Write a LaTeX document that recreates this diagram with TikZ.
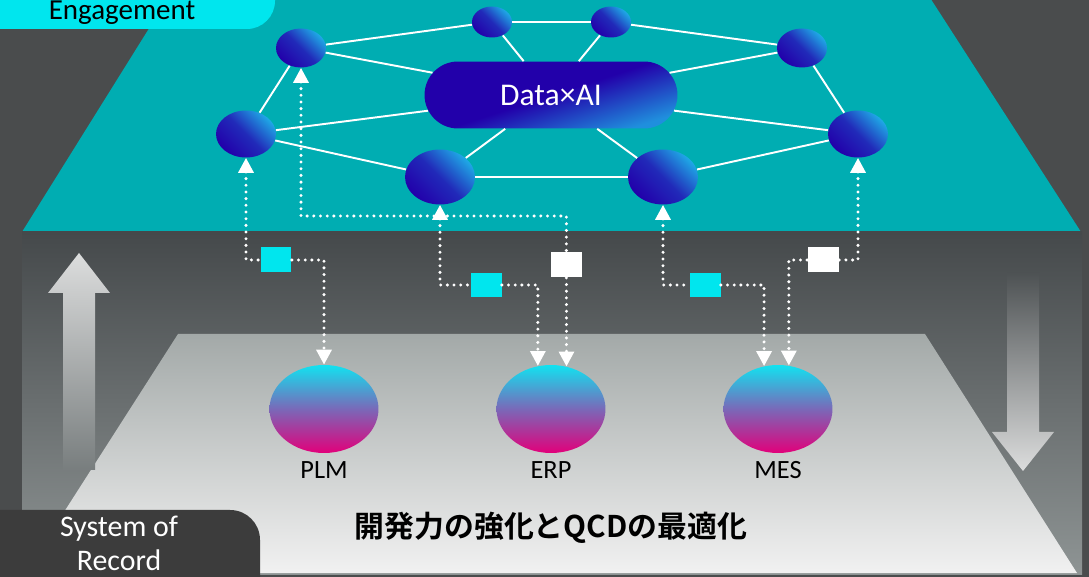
\documentclass[tikz,border=0pt]{standalone}
\usepackage{fontspec}
\setmainfont{Carlito}
\newfontfamily\jpfont{Noto Sans CJK JP}[BoldFont=* Bold]
\usetikzlibrary{arrows.meta,positioning,shapes.geometric,shapes.misc}
\definecolor{bgGray}{HTML}{4A4C4D}
\definecolor{tealLayer}{HTML}{00ADB2}
\definecolor{cyanTag}{HTML}{00E6EE}
\definecolor{panelTop}{HTML}{45494B}
\definecolor{panelBot}{HTML}{8E9494}
\definecolor{floorTop}{HTML}{A3A9A8}
\definecolor{floorBot}{HTML}{F1F1F1}
\definecolor{arrowLight}{HTML}{DCDDDD}
\definecolor{nodeDark}{HTML}{2200AA}
\definecolor{nodeLight}{HTML}{1FA8E6}
\definecolor{sysTop}{HTML}{12E2F0}
\definecolor{sysMid}{HTML}{7A68B8}
\definecolor{sysBot}{HTML}{E2007A}
\definecolor{labelDark}{HTML}{3C3C3C}

\begin{document}
\begin{tikzpicture}[x=0.02cm, y=-0.02cm, every node/.style={inner sep=0pt},
  hub/.style 2 args={ellipse, minimum width=#1, minimum height=#2,
    top color=nodeLight, bottom color=nodeDark, middle color=nodeDark!75!nodeLight, shading angle=-45},
  sys/.style={ellipse, minimum width=2.18cm, minimum height=1.76cm,
    top color=sysTop, bottom color=sysBot, middle color=sysMid},
  syslabel/.style={font=\fontsize{15}{18}\selectfont, below=0.16cm of #1},
  tagbox/.style={rectangle, fill=#1, minimum width=0.62cm, minimum height=0.5cm},
  web/.style={draw=white, line width=1.1pt},
  link/.style={white, line width=1.9pt, line cap=round, dash pattern=on 0pt off 3.8pt},
  up/.style={{Triangle[width=8.5pt,length=8.5pt]}-},
  down/.style={-{Triangle[width=8.5pt,length=8.5pt]}}]
  \useasboundingbox (0,0) rectangle (1089,577);
  \clip (0,0) rectangle (1089,577);

  % layers
  \fill[bgGray] (0,0) rectangle (1089,577);
  \fill[tealLayer] (173,-10) -- (925,-10) -- (1081,232) -- (22,232) -- cycle;
  \shade[top color=panelTop, bottom color=panelBot] (22,232) rectangle (1082,574);
  \shade[top color=floorTop, bottom color=floorBot] (178,334) -- (925,334) -- (1077,573) -- (25,573) -- cycle;
  \shade[top color=arrowLight, bottom color=panelTop!30!panelBot]
    (79,253) -- (110,293) -- (95,293) -- (95,470) -- (63,470) -- (63,293) -- (48,293) -- cycle;
  \shade[top color=panelTop!88!panelBot, bottom color=arrowLight]
    (1007,273) -- (1039,273) -- (1039,432) -- (1054,432) -- (1023,471) -- (992,432) -- (1007,432) -- cycle;

  % labels
  \fill[cyanTag, rounded corners=16pt] (-40,-40) rectangle (275,29);
  \node[font=\fontsize{16.5}{20}\selectfont, anchor=base] (eng) at (122,20) {Engagement};
  \fill[labelDark, rounded corners=17pt] (-40,510) rectangle (260,620);
  \node[align=center, text=white, font=\fontsize{17}{19.5}\selectfont] (sor) at (119,543) {System of\\Record};
  \node[font=\jpfont\bfseries\fontsize{17}{20}\selectfont] (goal) at (551,528) {開発力の強化とQCDの最適化};

  % engagement network
  \node[rounded rectangle, minimum width=5.06cm, minimum height=1.34cm,
    top color=nodeDark, bottom color=nodeLight!85!nodeDark, middle color=nodeDark, shading angle=18,
    text=white, font=\fontsize{18}{20}\selectfont] (core) at (551,95) {Data×AI};
  \node[hub={0.8cm}{0.62cm}] (top1) at (492,22) {};
  \node[hub={0.8cm}{0.62cm}] (top2) at (611,22) {};
  \node[hub={1cm}{0.78cm}] (upL) at (301,48) {};
  \node[hub={1cm}{0.78cm}] (upR) at (802,48) {};
  \node[hub={1.2cm}{0.94cm}] (midL) at (246,134) {};
  \node[hub={1.2cm}{0.94cm}] (midR) at (858,134) {};
  \node[hub={1.4cm}{1.1cm}] (lowL) at (440,177) {};
  \node[hub={1.4cm}{1.1cm}] (lowR) at (663,177) {};
  \foreach \a/\b in {top1/top2, top1/upL, top2/upR, upL/midL, upR/midR, midL/lowL, midR/lowR, lowL/lowR}
    \draw[web] (\a) -- (\b);
  \foreach \h in {top1,top2,upL,upR,midL,midR,lowL,lowR}
    \draw[web] (core) -- (\h);

  % systems of record
  \node[sys] (plm) at (324,409) {};
  \node[sys] (erp) at (551,409) {};
  \node[sys] (mes) at (778,409) {};
  \node[syslabel=plm] (plmL) {PLM};
  \node[syslabel=erp] (erpL) {ERP};
  \node[syslabel=mes] (mesL) {MES};

  % data links
  \node[tagbox=cyanTag] (tagA) at (276,260) {};
  \node[tagbox=white] (tagB) at (566.4,265) {};
  \node[tagbox=cyanTag] (tagC) at (486,285) {};
  \node[tagbox=cyanTag] (tagD) at (705,285) {};
  \node[tagbox=white] (tagE) at (823,260) {};
  \coordinate (cornB) at (566.4,216);
  \draw[link, up] (midL.south) |- (tagA);
  \draw[link, down] (tagA) -| (plm.north);
  \draw[link, up] (upL.south) |- (cornB) -- (tagB);
  \draw[link, down] (tagB) -- (erp.70);
  \draw[link, up] (lowL.south) |- (tagC);
  \draw[link, down] (tagC) -| (erp.107);
  \draw[link, up] (lowR.south) |- (tagD);
  \draw[link, down] (tagD) -| (mes.108);
  \draw[link, up] (midR.south) |- (tagE);
  \draw[link, down] (tagE) -| (mes.76);
\end{tikzpicture}
\end{document}
